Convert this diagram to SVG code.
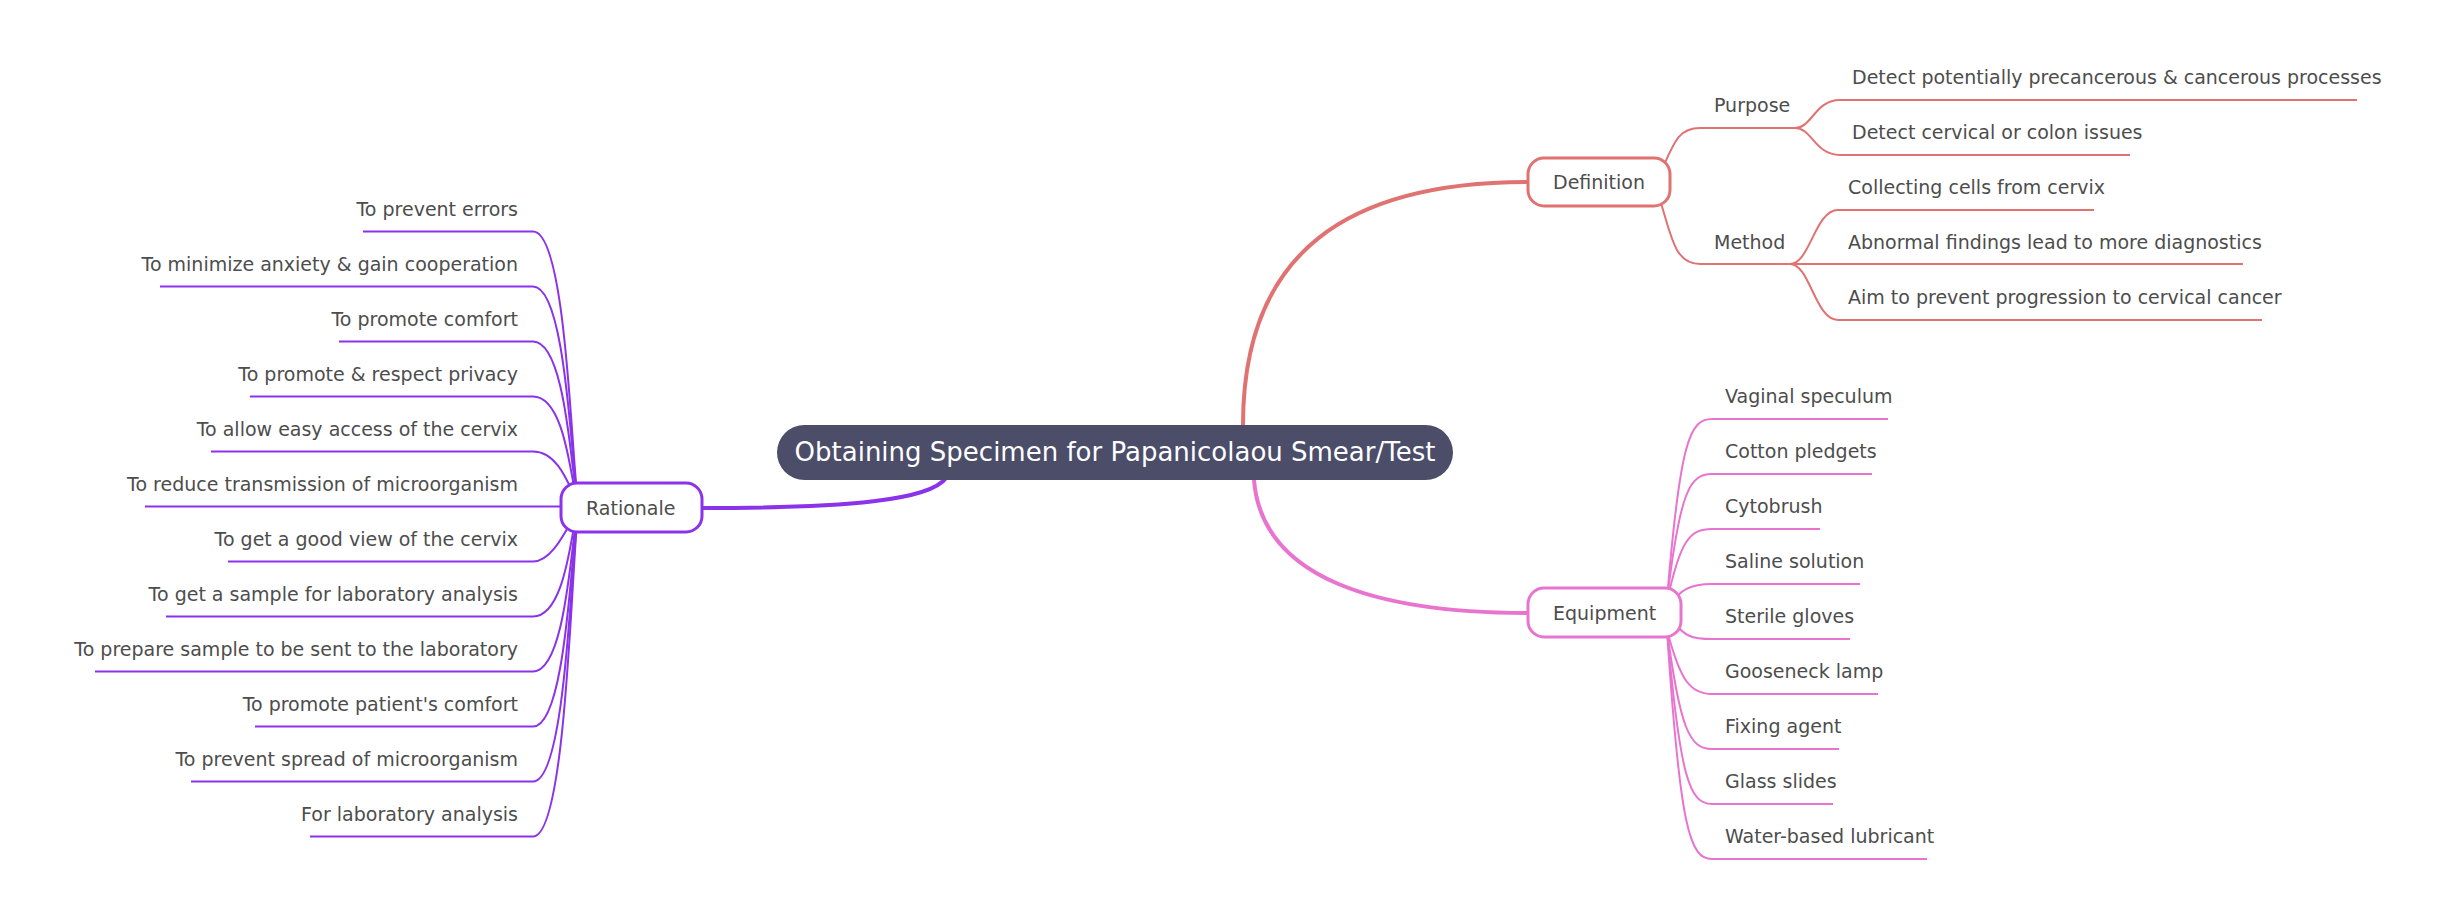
<svg xmlns="http://www.w3.org/2000/svg" width="2452" height="905" viewBox="0 0 2452 905">
<style>
text{font-family:"DejaVu Sans","Liberation Sans",sans-serif;font-size:19px;fill:#4d4d4d}
.r{text-anchor:end}
.pu{stroke:#8a33ea;fill:none;stroke-width:2}
.de{stroke:#e07272;fill:none;stroke-width:2}
.eq{stroke:#e874cf;fill:none;stroke-width:2}
</style>
<rect width="2452" height="905" fill="#fff"/>
<g id="connectors">
<path d="M702,508 C850,508 930,500 946,478" stroke="#8a33ea" stroke-width="4" fill="none"/>
<path d="M1243,425 C1243,250 1350,182 1528,182" stroke="#e07272" stroke-width="4" fill="none"/>
<path d="M1254,480 C1262,580 1380,613 1528,613" stroke="#e874cf" stroke-width="4" fill="none"/>
<g class="pu">
<path d="M363,231.5 H533 C570,231.5 572,507 580,507"/>
<path d="M160,286.5 H533 C570,286.5 572,507 580,507"/>
<path d="M339,341.5 H533 C570,341.5 572,507 580,507"/>
<path d="M250,396.5 H533 C570,396.5 572,507 580,507"/>
<path d="M211,451.5 H533 C560,451.5 570,490 580,507"/>
<path d="M145,506.5 H561"/>
<path d="M228,561.5 H533 C555,561.5 570,520 580,507"/>
<path d="M166,616.5 H533 C570,616.5 572,507 580,507"/>
<path d="M95,671.5 H533 C570,671.5 572,507 580,507"/>
<path d="M255,726.5 H533 C570,726.5 572,507 580,507"/>
<path d="M191,781.5 H533 C570,781.5 572,507 580,507"/>
<path d="M310,836.5 H533 C570,836.5 572,507 580,507"/>
</g>
<g class="de">
<path d="M1664,165 C1675,140 1680,128 1700,128 H1795 C1812,128 1815,100 1840,100 H2357"/>
<path d="M1795,128 C1812,128 1815,155 1840,155 H2130"/>
<path d="M1661,203 C1672,240 1676,264 1700,264 H1790"/>
<path d="M1790,264 C1810,264 1815,210 1838,210 H2094"/>
<path d="M1790,264 H2243"/>
<path d="M1790,264 C1810,264 1815,320 1838,320 H2262"/>
</g>
<g class="eq">
<path d="M1667,600 C1680,440 1690,419 1712,419 H1888"/>
<path d="M1667,600 C1680,490 1690,474 1712,474 H1872"/>
<path d="M1667,602 C1680,540 1690,529 1712,529 H1820"/>
<path d="M1670,605 C1680,590 1690,584 1712,584 H1860"/>
<path d="M1676,625 C1685,635 1690,639 1712,639 H1850"/>
<path d="M1667,630 C1680,680 1690,694 1712,694 H1878"/>
<path d="M1667,630 C1680,730 1690,749 1712,749 H1839"/>
<path d="M1667,630 C1680,780 1690,804 1712,804 H1833"/>
<path d="M1667,630 C1680,830 1690,859 1712,859 H1927"/>
</g>
</g>
<g id="center"><rect x="777" y="425" width="676" height="55" rx="27.5" fill="#4b4d69"/><text x="1115" y="461" text-anchor="middle" style="fill:#fff;font-size:26px">Obtaining Specimen for Papanicolaou Smear/Test</text></g>
<g id="rationale"><rect x="561" y="483" width="141" height="49" rx="16" fill="#fff" stroke="#8a33ea" stroke-width="3"/><text x="586" y="515">Rationale</text></g>
<g id="definition"><rect x="1528" y="158" width="142" height="48" rx="16" fill="#fff" stroke="#e07272" stroke-width="3"/><text x="1553" y="189">Definition</text></g>
<g id="equipment"><rect x="1528" y="588" width="153" height="49" rx="16" fill="#fff" stroke="#e874cf" stroke-width="3"/><text x="1553" y="620">Equipment</text></g>
<g id="rationale-items">
<text class="r" x="518" y="216">To prevent errors</text>
<text class="r" x="518" y="271">To minimize anxiety &amp; gain cooperation</text>
<text class="r" x="518" y="326">To promote comfort</text>
<text class="r" x="518" y="381">To promote &amp; respect privacy</text>
<text class="r" x="518" y="436">To allow easy access of the cervix</text>
<text class="r" x="518" y="491">To reduce transmission of microorganism</text>
<text class="r" x="518" y="546">To get a good view of the cervix</text>
<text class="r" x="518" y="601">To get a sample for laboratory analysis</text>
<text class="r" x="518" y="656">To prepare sample to be sent to the laboratory</text>
<text class="r" x="518" y="711">To promote patient's comfort</text>
<text class="r" x="518" y="766">To prevent spread of microorganism</text>
<text class="r" x="518" y="821">For laboratory analysis</text>
</g>
<g id="definition-items">
<text x="1714" y="112">Purpose</text>
<text x="1852" y="84">Detect potentially precancerous &amp; cancerous processes</text>
<text x="1852" y="139">Detect cervical or colon issues</text>
<text x="1714" y="249">Method</text>
<text x="1848" y="194">Collecting cells from cervix</text>
<text x="1848" y="249">Abnormal findings lead to more diagnostics</text>
<text x="1848" y="304">Aim to prevent progression to cervical cancer</text>
</g>
<g id="equipment-items">
<text x="1725" y="403">Vaginal speculum</text>
<text x="1725" y="458">Cotton pledgets</text>
<text x="1725" y="513">Cytobrush</text>
<text x="1725" y="568">Saline solution</text>
<text x="1725" y="623">Sterile gloves</text>
<text x="1725" y="678">Gooseneck lamp</text>
<text x="1725" y="733">Fixing agent</text>
<text x="1725" y="788">Glass slides</text>
<text x="1725" y="843">Water-based lubricant</text>
</g>
</svg>
